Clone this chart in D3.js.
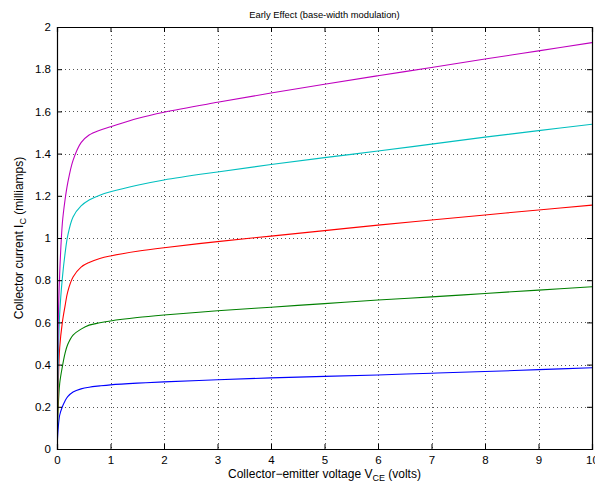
<!DOCTYPE html>
<html>
<head>
<meta charset="utf-8">
<script src="https://cdn.jsdelivr.net/npm/d3@7"></script>
<style>
  body { margin: 0; background: #fff; }
  svg { display: block; font-family: "Liberation Sans", Arial, Helvetica, sans-serif; }
</style>
</head>
<body>
<svg id="chart" width="595" height="484"></svg>
<script>
// Data
const vce = [0, 0.02, 0.05, 0.1, 0.15, 0.2, 0.3, 0.45, 0.6, 0.8, 1, 1.5, 2, 3, 4, 5, 6, 7, 8, 9, 10];
const icBlue    = [0, 0.09, 0.16, 0.20, 0.228, 0.248, 0.270, 0.285, 0.293, 0.299, 0.304, 0.312, 0.318, 0.328, 0.337, 0.344, 0.351, 0.359, 0.367, 0.376, 0.385];
const icGreen   = [0, 0.18, 0.31, 0.39, 0.453, 0.495, 0.540, 0.568, 0.587, 0.598, 0.607, 0.623, 0.635, 0.655, 0.672, 0.689, 0.706, 0.721, 0.737, 0.753, 0.769];
const icRed     = [0, 0.27, 0.48, 0.60, 0.677, 0.745, 0.815, 0.862, 0.884, 0.903, 0.915, 0.937, 0.954, 0.983, 1.009, 1.035, 1.061, 1.085, 1.109, 1.133, 1.156];
const icCyan    = [0, 0.36, 0.64, 0.81, 0.925, 1.010, 1.100, 1.152, 1.180, 1.203, 1.219, 1.250, 1.275, 1.313, 1.348, 1.381, 1.412, 1.445, 1.478, 1.509, 1.539];
const icMagenta = [0, 0.56, 0.83, 1.07, 1.180, 1.260, 1.368, 1.452, 1.488, 1.511, 1.527, 1.566, 1.596, 1.643, 1.687, 1.729, 1.769, 1.808, 1.848, 1.887, 1.926];
const seriesColors = ["#0000ff", "#008000", "#ff0000", "#00bfbf", "#bf00bf"];
const seriesValues = [icBlue, icGreen, icRed, icCyan, icMagenta];
const xTicks = [0, 1, 2, 3, 4, 5, 6, 7, 8, 9, 10];
const yTicks = [0, 0.2, 0.4, 0.6, 0.8, 1, 1.2, 1.4, 1.6, 1.8, 2];
const titleText = "Early Effect (base-width modulation)";

const svg = d3.select("#chart");
const L = 57, R = 592, T = 27, B = 449;
const x = d3.scaleLinear().domain([0, 10]).range([L, R]);
const y = d3.scaleLinear().domain([0, 2]).range([B, T]);

// grid
const grid = svg.append("g");
grid.selectAll("line.gx").data(xTicks.slice(1, -1)).join("line")
  .attr("x1", d => Math.round(x(d)) + 0.5).attr("x2", d => Math.round(x(d)) + 0.5)
  .attr("y1", T).attr("y2", B)
  .attr("stroke", "#555").attr("stroke-width", 1).attr("stroke-dasharray", "1,3");
grid.selectAll("line.gy").data(yTicks.slice(1, -1)).join("line")
  .attr("y1", d => Math.round(y(d)) + 0.5).attr("y2", d => Math.round(y(d)) + 0.5)
  .attr("x1", L).attr("x2", R)
  .attr("stroke", "#555").attr("stroke-width", 1).attr("stroke-dasharray", "1,3");

// curves
const line = d3.line().x(d => x(d[0])).y(d => y(d[1])).curve(d3.curveCatmullRom.alpha(0.5));
svg.append("clipPath").attr("id", "clip").append("rect")
  .attr("x", L).attr("y", T).attr("width", R - L).attr("height", B - T);
svg.append("g").attr("clip-path", "url(#clip)")
  .selectAll("path").data(seriesValues).join("path")
  .attr("d", vals => line(vce.map((v, i) => [v, vals[i]])))
  .attr("fill", "none")
  .attr("stroke", (d, i) => seriesColors[i])
  .attr("stroke-width", 1.1);

// axes (MATLAB style: ticks inward, box)
const fmt = d => d3.format("~g")(d);
const axB = d3.axisBottom(x).tickValues(xTicks).tickSize(-5).tickPadding(7).tickFormat(fmt);
const axL = d3.axisLeft(y).tickValues(yTicks).tickSize(-5).tickPadding(6).tickFormat(fmt);
const axT = d3.axisTop(x).tickValues(xTicks).tickSize(-5).tickFormat("");
const axR = d3.axisRight(y).tickValues(yTicks).tickSize(-5).tickFormat("");

function style(g) {
  g.selectAll("path.domain").attr("stroke", "#000").attr("stroke-width", 1.2);
  g.selectAll(".tick line").attr("stroke", "#000").attr("stroke-width", 1);
  g.selectAll("text").attr("fill", "#000").style("font-size", "11.5px")
   .style("font-family", "'Liberation Sans', Arial, sans-serif");
}
svg.append("g").attr("transform", `translate(0,${B})`).call(axB).call(style);
svg.append("g").attr("transform", `translate(${L},0)`).call(axL).call(style);
svg.append("g").attr("transform", `translate(0,${T})`).call(axT).call(style);
svg.append("g").attr("transform", `translate(${R},0)`).call(axR).call(style);

// title
svg.append("text").attr("x", (L + R) / 2).attr("y", 18)
  .attr("text-anchor", "middle").style("font-size", "9.4px").text(titleText);

// x label with subscript
const xl = svg.append("text").attr("x", (L + R) / 2).attr("y", 477.5)
  .attr("text-anchor", "middle").style("font-size", "12px");
xl.append("tspan").text("Collector\u2212emitter voltage V");
xl.append("tspan").attr("dy", 3).style("font-size", "9px").text("CE");
xl.append("tspan").attr("dy", -3).text(" (volts)");

// y label with subscript
const yl = svg.append("text").attr("transform", `translate(23,${(T + B) / 2}) rotate(-90)`)
  .attr("text-anchor", "middle").style("font-size", "12px");
yl.append("tspan").text("Collector current I");
yl.append("tspan").attr("dy", 3).style("font-size", "9px").text("C");
yl.append("tspan").attr("dy", -3).text(" (milliamps)");
</script>
</body>
</html>
